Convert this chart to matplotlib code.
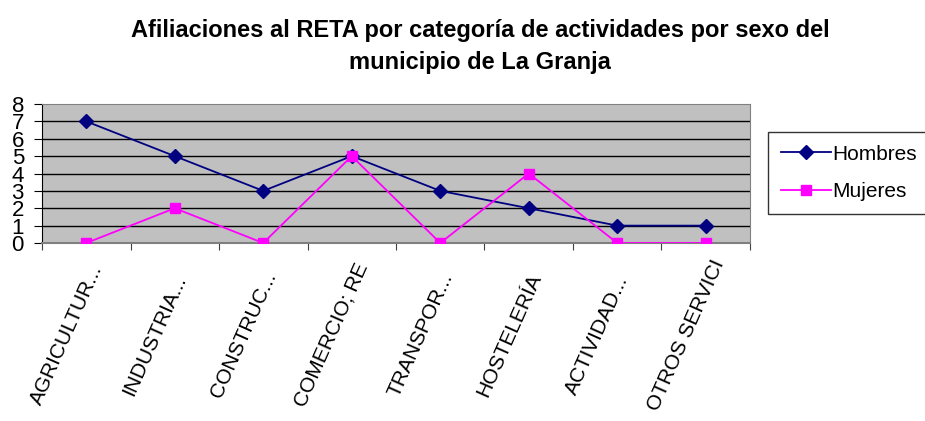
import numpy as np
import matplotlib.pyplot as plt

plt.rcParams['font.family'] = ['Liberation Sans', 'DejaVu Sans']

categorias = ['AGRICULTUR...', 'INDUSTRIA...', 'CONSTRUC...', 'COMERCIO; RE',
              'TRANSPOR...', 'HOSTELERÍA', 'ACTIVIDAD...', 'OTROS SERVICI']
hombres = [7, 5, 3, 5, 3, 2, 1, 1]
mujeres = [0, 2, 0, 5, 0, 4, 0, 0]

fig = plt.figure(figsize=(9.25, 4.21), dpi=100)
ax = fig.add_axes([42/925, 1-243/421, (750-42)/925, (243-104)/421])
ax.set_facecolor('#C0C0C0')

x = np.arange(len(categorias))
ax.plot(x, hombres, color='#000080', lw=1.3, marker='D', ms=7, label='Hombres', zorder=3)
ax.plot(x, mujeres, color='#FF00FF', lw=1.3, marker='s', ms=7, label='Mujeres', zorder=3)

ax.set_xlim(-0.5, len(categorias)-0.5)
ax.set_ylim(0, 8)
ax.set_yticks(range(0, 9))
ax.set_yticklabels([str(i) for i in range(0, 9)], fontsize=16)
ax.tick_params(axis='y', length=6, pad=7)
for i in range(1, 8):
    ax.axhline(i, color='black', lw=1, zorder=1)

ax.set_xticks(np.arange(-0.5, len(categorias)), minor=False)
ax.set_xticklabels([])
ax.tick_params(axis='x', length=5, color='#404040')
# etiquetas giradas, centradas bajo cada categoría
for i, c in enumerate(categorias):
    ax.annotate(c, xy=(i, 0), xycoords=('data', 'axes fraction'),
                xytext=(-20, -92), textcoords='offset pixels',
                rotation=66, rotation_mode='anchor', ha='center', va='center',
                fontsize=15, annotation_clip=False)

ax.spines['left'].set_color('black')
ax.spines['bottom'].set_color('#808080')
ax.spines['top'].set_color('#808080')
ax.spines['right'].set_color('#808080')
ax.spines['bottom'].set_linewidth(1.5)

fig.text(480/925, 1-30/421, 'Afiliaciones al RETA por categoría de actividades por sexo del',
         ha='center', va='center', fontsize=17, fontweight='bold')
fig.text(480/925, 1-62/421, 'municipio de La Granja',
         ha='center', va='center', fontsize=17, fontweight='bold')

leg = ax.legend(loc='upper left', bbox_to_anchor=(768/925, 1-132/421), bbox_transform=fig.transFigure,
                fontsize=15, frameon=True, fancybox=False, edgecolor='black',
                handlelength=2.4, handletextpad=0.1, labelspacing=0.9, borderpad=0.6,
                borderaxespad=0)
leg.get_frame().set_linewidth(1)

fig.savefig('out.png', dpi=100)
